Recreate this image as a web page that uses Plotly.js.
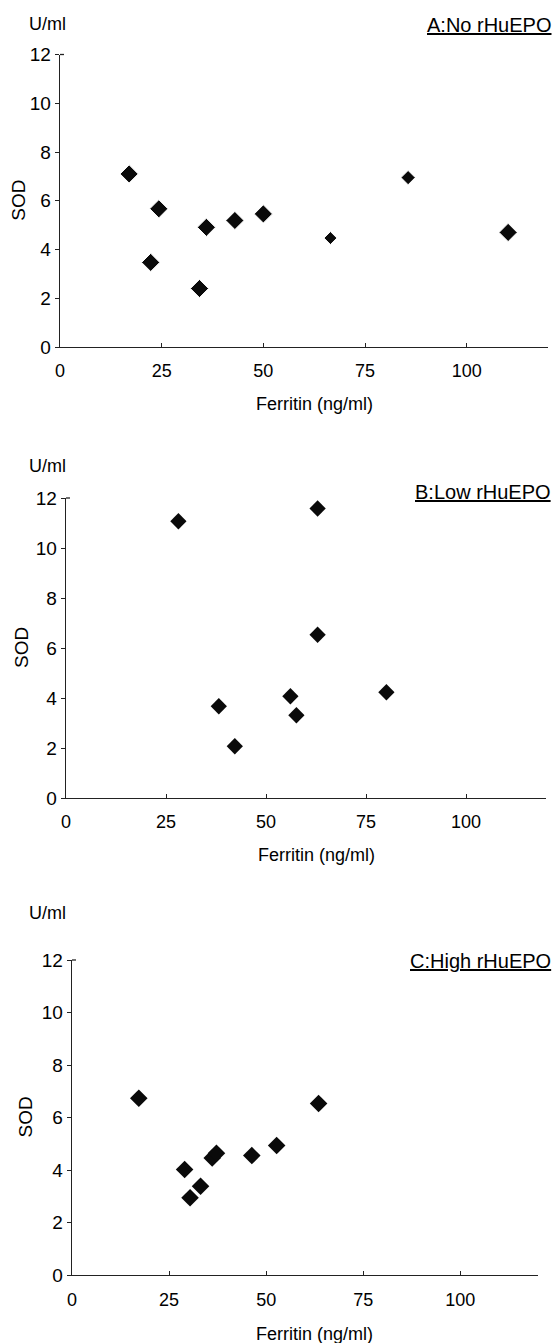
<!DOCTYPE html>
<html>
<head>
<meta charset="utf-8">
<script src="https://cdn.plot.ly/plotly-3.0.1.min.js"></script>
<style>html,body{margin:0;padding:0;background:#fff;}#chart{width:555px;height:1343px;}</style>
</head>
<body>
<div id="chart"></div>
<script>
// Panel A: No rHuEPO
const ferritinA = [17.0, 85.6, 24.3, 22.3, 34.3, 36.0, 43.0, 50.0, 66.5, 110.2];
const sodA      = [7.10, 6.95, 5.67, 3.47, 2.40, 4.91, 5.19, 5.46, 4.47, 4.70];
// Panel B: Low rHuEPO
const ferritinB = [28.1, 62.9, 62.9, 38.2, 42.2, 56.1, 57.6, 80.1];
const sodB      = [11.07, 11.58, 6.53, 3.67, 2.07, 4.07, 3.31, 4.23];
// Panel C: High rHuEPO
const ferritinC = [17.2, 63.5, 29.0, 30.4, 33.1, 36.1, 37.2, 46.3, 52.7];
const sodC      = [6.73, 6.53, 4.02, 2.94, 3.38, 4.46, 4.64, 4.55, 4.93];

const panelTitles = ["A:No rHuEPO", "B:Low rHuEPO", "C:High rHuEPO"];
const xTickVals = [0, 25, 50, 75, 100];
const yTickVals = [0, 2, 4, 6, 8, 10, 12];
const xTitle = "Ferritin (ng/ml)";
const yTitle = "SOD";
const unitLabel = "U/ml";

const W = 555, H = 1343;
const FONT = "Liberation Sans, Arial, sans-serif";
const py = p => 1 - p / H;
const px = p => p / W;

// layout per panel (pixels)
const panels = [
  {l: 60, r: 548, top: 54.5, bot: 347,  unitY: 24,  titleY: 25,  sodX: 19, xtY: 404,  lblStand: 7,
   msize: [14, 11, 14, 14, 14, 14, 14, 14, 10, 14]},
  {l: 66, r: 546, top: 498,  bot: 798,  unitY: 466, titleY: 492, sodX: 22, xtY: 855,  lblStand: 7,  msize: 12.5},
  {l: 72, r: 538, top: 960,  bot: 1275, unitY: 913, titleY: 961, sodX: 25, xtY: 1334, lblStand: 8,  msize: 13.5}
];

const datasets = [[ferritinA, sodA], [ferritinB, sodB], [ferritinC, sodC]];
const traces = datasets.map((d, i) => ({
  type: "scatter", mode: "markers",
  x: d[0], y: d[1],
  xaxis: i === 0 ? "x" : "x" + (i + 1),
  yaxis: i === 0 ? "y" : "y" + (i + 1),
  marker: {symbol: "diamond", size: panels[i].msize, color: "#0a0a0a", opacity: 1},
  showlegend: false, hoverinfo: "x+y"
}));

const layout = {
  width: W, height: H,
  margin: {l: 0, r: 0, t: 0, b: 0},
  paper_bgcolor: "#fff", plot_bgcolor: "#fff",
  font: {family: FONT, color: "#000", size: 18},
  showlegend: false,
  annotations: [], shapes: []
};

panels.forEach((g, i) => {
  const sx = i === 0 ? "" : String(i + 1);
  layout["xaxis" + sx] = {
    domain: [px(g.l), px(g.r)],
    anchor: "y" + sx,
    range: [0, 120],
    tickvals: xTickVals,
    ticks: "inside", ticklen: 4, tickcolor: "#222",
    showline: true, linecolor: "#222", linewidth: 1.3,
    showgrid: false, zeroline: false,
    ticklabelstandoff: g.lblStand,
    tickfont: {family: FONT, size: 18, color: "#000"}
  };
  layout["yaxis" + sx] = {
    domain: [py(g.bot), py(g.top)],
    anchor: "x" + sx,
    range: [0, 12],
    tickvals: yTickVals,
    ticks: "outside", ticklen: 4, tickcolor: "#222",
    showline: true, linecolor: "#222", linewidth: 1.3,
    showgrid: false, zeroline: false,
    tickfont: {family: FONT, size: 19, color: "#000"}
  };
  layout.annotations.push({
    xref: "paper", yref: "paper", x: px(47), y: py(g.unitY),
    text: unitLabel, showarrow: false, xanchor: "center", yanchor: "middle",
    font: {family: FONT, size: 18, color: "#000"}
  });
  layout.annotations.push({
    xref: "paper", yref: "paper", x: px(553), y: py(g.titleY),
    text: "<u>" + panelTitles[i] + "</u>", showarrow: false,
    xanchor: "right", yanchor: "middle",
    font: {family: FONT, size: 20, color: "#000"}
  });
  layout.annotations.push({
    xref: "paper", yref: "paper", x: px(g.sodX), y: py((g.top + g.bot) / 2),
    text: yTitle, showarrow: false, textangle: -90,
    xanchor: "center", yanchor: "middle",
    font: {family: FONT, size: 19, color: "#000"}
  });
  layout.annotations.push({
    xref: "paper", yref: "paper", x: px(g.l + (g.r - g.l) * 62.5 / 120), y: py(g.xtY),
    text: xTitle, showarrow: false, xanchor: "center", yanchor: "middle",
    font: {family: FONT, size: 18, color: "#000"}
  });
  layout.shapes.push({
    type: "line", xref: "paper", yref: "paper",
    x0: px(g.l), x1: px(g.l + 4), y0: py(g.top), y1: py(g.top),
    line: {color: "#222", width: 1.3}
  });
});

Plotly.newPlot("chart", traces, layout, {displayModeBar: false, staticPlot: true});
</script>
</body>
</html>
